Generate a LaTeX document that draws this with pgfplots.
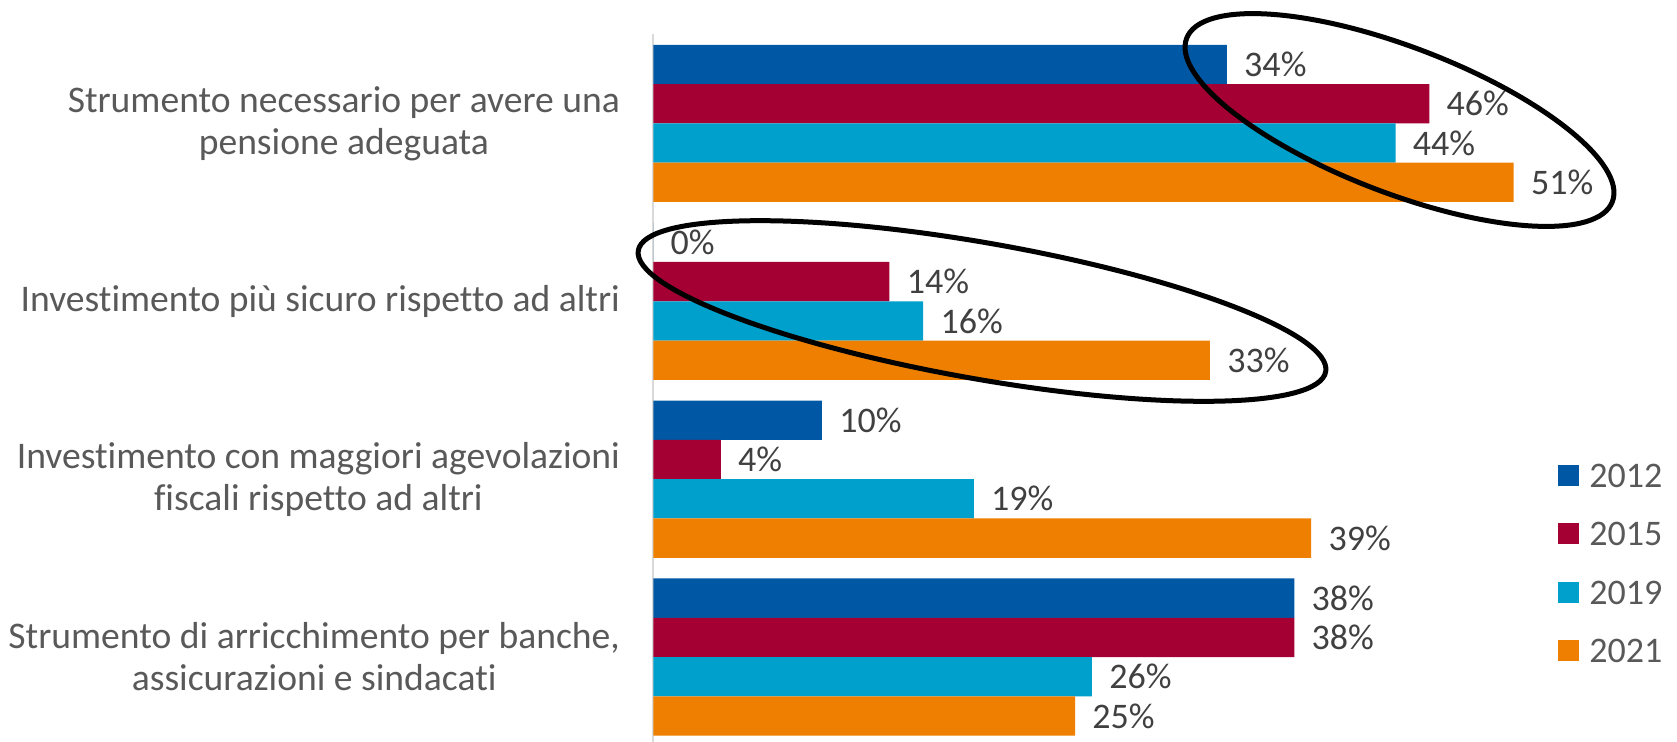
\documentclass[border=0pt]{standalone}
\usepackage{fontspec}
\setmainfont{Carlito}[Ligatures=NoCommon]
\usepackage{pgfplots}
\pgfplotsset{compat=1.18}

\definecolor{c12}{HTML}{0057A4}
\definecolor{c15}{HTML}{A50034}
\definecolor{c19}{HTML}{00A0CC}
\definecolor{c21}{HTML}{EF7F00}
\definecolor{axgray}{HTML}{D9D9D9}
\definecolor{txtgray}{HTML}{595959}
\definecolor{lblgray}{HTML}{404040}

\begin{document}
\begin{tikzpicture}
\useasboundingbox (0,0) rectangle (838.5pt,370.5pt);
\begin{axis}[
  at={(326.65pt,-2.5pt)}, anchor=south west,
  scale only axis, width=463.9pt, height=355.8pt,
  xmin=0, xmax=55, ymin=-0.5, ymax=3.5,
  xbar, bar width=19.65pt,
  axis x line=none, axis y line=left,
  axis line style={-, draw=axgray, line width=1pt},
  ytick={0,1,2,3}, major tick length=0pt, ytick style={draw=none},
  yticklabels={{Strumento di arricchimento per banche,\\assicurazioni e sindacati},
               {Investimento con maggiori agevolazioni\\fiscali rispetto ad altri},
               {Investimento più sicuro rispetto ad altri},
               {Strumento necessario per avere una\\pensione adeguata}},
  yticklabel style={align=center, inner sep=0pt, xshift=-16.5pt,
    font=\fontsize{18.8}{21}\selectfont, text=txtgray},
  /pgf/number format/assume math mode=true,
  nodes near coords={\pgfmathprintnumber{\pgfplotspointmeta}\%},
  nodes near coords style={anchor=west, inner sep=0pt, xshift=8.5pt,
    font=\fontsize{18}{20}\selectfont, text=lblgray},
  clip=false,
  legend style={at={(0.975,0.398)}, anchor=north west, draw=none, fill=none,
    inner sep=0pt, font=\fontsize{18}{20}\selectfont, text=txtgray,
    row sep=17.3pt,
    nodes={inner sep=0pt, text height=12pt, text depth=0pt}},
  legend cell align=left,
  /tikz/every odd column/.append style={column sep=5pt},
  legend image code/.code={\fill[#1] (0pt,-5.25pt) rectangle (10.5pt,5.25pt);},
]
\addplot[fill=c12, draw=none, bar shift=29.475pt] coordinates {(34,3) (0,2) (10,1) (38,0)};
\addplot[fill=c15, draw=none, bar shift=9.825pt] coordinates {(46,3) (14,2) (4,1) (38,0)};
\addplot[fill=c19, draw=none, bar shift=-9.825pt] coordinates {(44,3) (16,2) (19,1) (26,0)};
\addplot[fill=c21, draw=none, bar shift=-29.475pt] coordinates {(51,3) (33,2) (39,1) (25,0)};
\legend{2012,2015,2019,2021}
\end{axis}
\draw[line width=2.5pt, rotate around={-21:(699.75pt,310.5pt)}] (699.75pt,310.5pt) ellipse [x radius=114pt, y radius=36.5pt];
\draw[line width=2.5pt, rotate around={-10:(491pt,215pt)}] (491pt,215pt) ellipse [x radius=174.5pt, y radius=34pt];
\end{tikzpicture}
\end{document}
